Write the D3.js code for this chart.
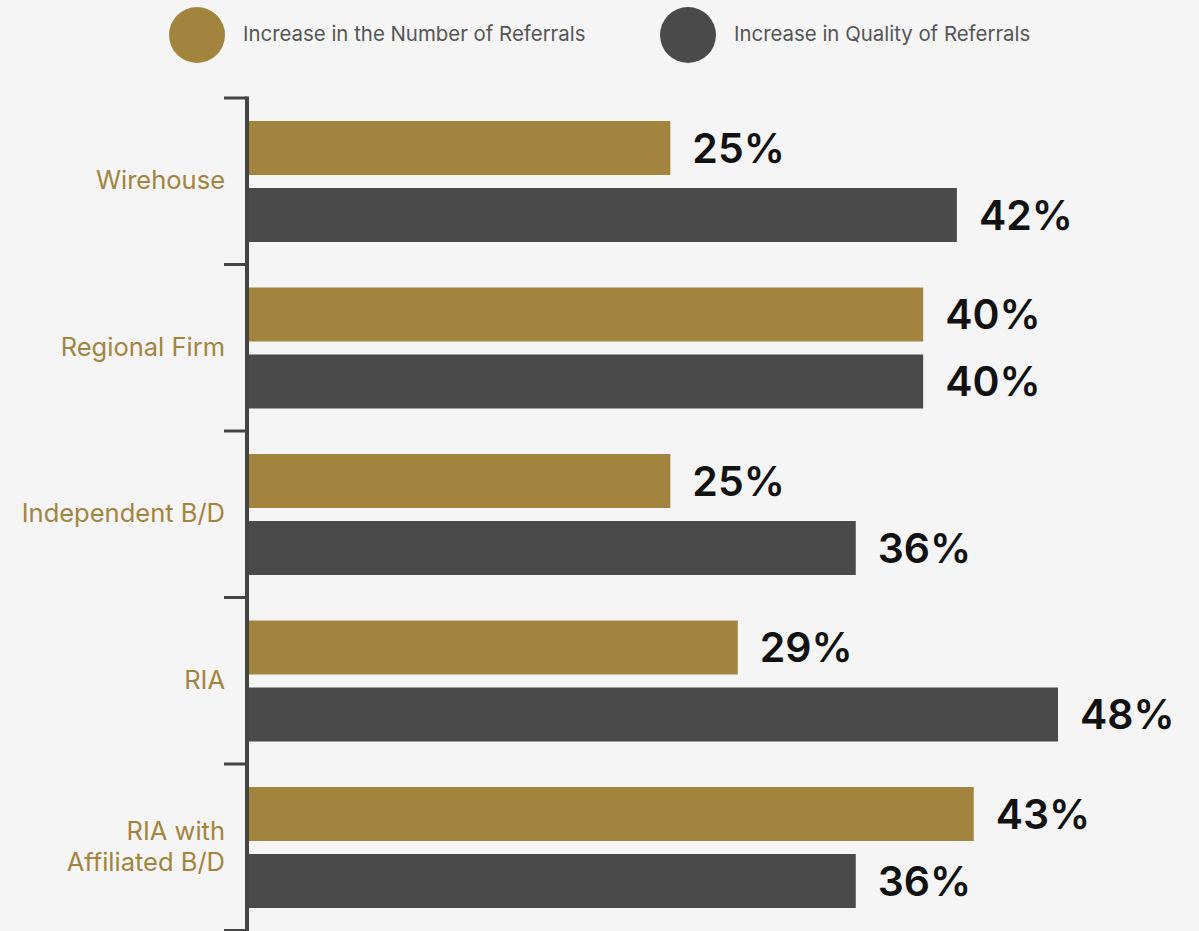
<!DOCTYPE html>
<html>
<head>
<meta charset="utf-8">
<script src="https://cdn.jsdelivr.net/npm/d3@7"></script>
<style>
  html, body { margin: 0; padding: 0; background: #f5f5f5; }
  svg { display: block; }
</style>
</head>
<body>
<div id="grafico"></div>
<script>
// Datos del grafico
var categorias = ["Wirehouse", "Regional Firm", "Independent B/D", "RIA", "RIA with\nAffiliated B/D"];
var series = ["Increase in the Number of Referrals", "Increase in Quality of Referrals"];
var numeroReferidos = [25, 40, 25, 29, 43];
var calidadReferidos = [42, 40, 36, 48, 36];

var colores = ["#a3843f", "#4a4a4a"];
var fuente = "Inter, Roboto, sans-serif";

var ancho = 1199, altura = 931;
var margen = { arriba: 98, izquierda: 249 };

var svg = d3.select("#grafico").append("svg")
    .attr("width", ancho)
    .attr("height", altura);

svg.append("rect").attr("width", ancho).attr("height", altura).attr("fill", "#f5f5f5");

// Escalas
var x = d3.scaleLinear().domain([0, 48]).range([margen.izquierda, margen.izquierda + 809]);
var y = d3.scaleBand().domain(categorias).range([margen.arriba, margen.arriba + 166.5 * 5]);
var ySub = d3.scaleBand().domain([0, 1]).range([23, 23 + 54 * 2 + 13]).paddingInner(13 / 67);

// Leyenda
var leyenda = svg.append("g");
var posLeyenda = [197, 688];
series.forEach(function (s, i) {
    leyenda.append("circle")
        .attr("cx", posLeyenda[i]).attr("cy", 35).attr("r", 28)
        .attr("fill", colores[i]);
    leyenda.append("text")
        .attr("x", posLeyenda[i] + 46).attr("y", 41)
        .attr("font-family", fuente)
        .attr("font-size", 20.4)
        .attr("fill", "#555")
        .text(s);
});

// Barras
var filas = categorias.map(function (c, i) {
    return { cat: c, valores: [numeroReferidos[i], calidadReferidos[i]] };
});

var grupo = svg.selectAll(".fila").data(filas).enter().append("g")
    .attr("class", "fila")
    .attr("transform", function (d) { return "translate(0," + y(d.cat) + ")"; });

grupo.selectAll("rect").data(function (d) { return d.valores; }).enter().append("rect")
    .attr("x", x(0))
    .attr("y", function (d, i) { return ySub(i); })
    .attr("width", function (d) { return x(d) - x(0); })
    .attr("height", ySub.bandwidth())
    .attr("fill", function (d, i) { return colores[i]; });

grupo.selectAll(".valor").data(function (d) { return d.valores; }).enter().append("text")
    .attr("class", "valor")
    .attr("x", function (d) { return x(d) + 22; })
    .attr("y", function (d, i) { return ySub(i) + ySub.bandwidth() / 2; })
    .attr("dy", "0.36em")
    .attr("font-family", fuente)
    .attr("font-weight", 600)
    .attr("font-size", 41)
    .attr("fill", "#111")
    .text(function (d) { return d + "%"; });

// Etiquetas de categoria
grupo.each(function (d) {
    var lineas = d.cat.split("\n");
    var t = d3.select(this).append("text")
        .attr("text-anchor", "end")
        .attr("font-family", fuente)
        .attr("font-size", 25.5)
        .attr("fill", "#a3843f");
    var centro = y.bandwidth() / 2;
    lineas.forEach(function (l, i) {
        t.append("tspan")
            .attr("x", 225)
            .attr("y", centro + 8 + (i - (lineas.length - 1) / 2) * 31)
            .text(l);
    });
});

// Eje
svg.append("line")
    .attr("x1", 247).attr("x2", 247)
    .attr("y1", margen.arriba - 1.5).attr("y2", altura)
    .attr("stroke", "#444").attr("stroke-width", 4);

var marcas = categorias.map(function (c) { return y(c); }).concat([y.range()[1]]);
svg.selectAll(".marca").data(marcas).enter().append("line")
    .attr("class", "marca")
    .attr("x1", 224).attr("x2", 247)
    .attr("y1", function (d) { return d; }).attr("y2", function (d) { return d; })
    .attr("stroke", "#444").attr("stroke-width", 3);
</script>
</body>
</html>
